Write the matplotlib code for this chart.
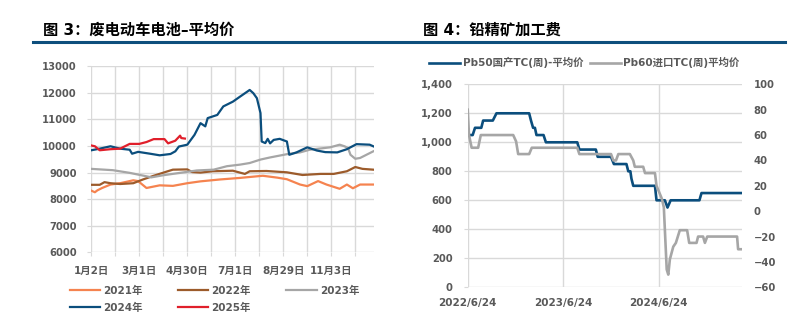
import datetime as dt

import matplotlib
matplotlib.use("Agg")
import matplotlib.pyplot as plt
import matplotlib.dates as mdates
from matplotlib.lines import Line2D

plt.rcParams["font.family"] = ["DejaVu Sans", "Noto Sans CJK SC"]

# ---- left chart: 废电动车电池-平均价 (x = trading day index in the year)
x_labels = ["1月2日", "", "3月1日", "", "4月30日", "", "7月1日", "", "8月29日", "", "11月3日", ""]

idx_2021 = [0, 3, 5, 9, 16, 24, 35, 39, 46, 57, 68, 80, 91, 107, 124, 138, 143, 155, 163, 174,
            180, 189, 196, 207, 213, 218, 224, 235]
val_2021 = [8320, 8260, 8330, 8420, 8550, 8600, 8710, 8680, 8420, 8520, 8500, 8600, 8670, 8740,
            8800, 8860, 8880, 8810, 8750, 8550, 8490, 8680, 8550, 8390, 8550, 8410, 8550, 8550]

idx_2022 = [0, 7, 11, 16, 24, 35, 43, 52, 63, 68, 80, 84, 91, 101, 118, 128, 132, 146, 163, 176,
            191, 202, 213, 220, 226, 235]
val_2022 = [8540, 8540, 8640, 8600, 8570, 8600, 8740, 8880, 9040, 9110, 9120, 9020, 9000, 9050,
            9070, 8950, 9050, 9060, 9010, 8910, 8950, 8950, 9050, 9210, 9140, 9110]

idx_2023 = [0, 18, 32, 46, 50, 60, 74, 88, 102, 113, 124, 132, 141, 149, 165, 174, 182, 199, 207,
            211, 214, 216, 220, 224, 235]
val_2023 = [9140, 9090, 8990, 8860, 8820, 8900, 8990, 9080, 9110, 9240, 9300, 9360, 9490, 9570,
            9710, 9760, 9860, 9950, 10050, 9990, 9920, 9670, 9520, 9550, 9800]

idx_2024 = [0, 7, 16, 24, 32, 34, 39, 49, 57, 66, 70, 73, 80, 86, 91, 95, 97, 105, 110, 118, 124,
            132, 135, 138, 141, 142, 145, 147, 149, 152, 157, 163, 165, 171, 180, 188, 195, 205,
            213, 221, 232, 235]
val_2024 = [9840, 9900, 9990, 9900, 9860, 9710, 9780, 9710, 9650, 9700, 9800, 9980, 10050, 10420,
            10860, 10740, 11050, 11170, 11490, 11670, 11860, 12110, 11990, 11800, 11240, 10170,
            10110, 10270, 10100, 10230, 10270, 10170, 9670, 9760, 9950, 9830, 9770, 9760, 9880,
            10070, 10050, 9990]

idx_2025 = [0, 3, 7, 16, 24, 32, 40, 46, 52, 61, 64, 70, 74, 75, 78]
val_2025 = [10020, 9990, 9840, 9880, 9900, 10080, 10080, 10150, 10260, 10260, 10100, 10200,
            10390, 10300, 10280]

# ---- right chart: 铅精矿加工费
pb50_dates = ["2022-06-24", "2022-07-13", "2022-07-22", "2022-08-15", "2022-08-22", "2022-09-28",
              "2022-10-12", "2023-02-14", "2023-02-21", "2023-03-01", "2023-03-08", "2023-03-14",
              "2023-04-10", "2023-04-19", "2023-08-17", "2023-08-25", "2023-10-27", "2023-11-03",
              "2023-12-24", "2024-01-04", "2024-02-21", "2024-02-28", "2024-03-07", "2024-03-11",
              "2024-03-18", "2024-06-09", "2024-06-15", "2024-07-17", "2024-07-27", "2024-08-08",
              "2024-11-26", "2024-12-04", "2025-05-07"]
pb50_vals = [1050, 1050, 1100, 1100, 1150, 1150, 1200, 1200, 1150, 1100, 1100, 1050, 1050, 1000,
             1000, 950, 950, 900, 900, 850, 850, 800, 800, 750, 700, 700, 600, 600, 550, 600,
             600, 650, 650]

pb60_dates = ["2022-06-24", "2022-06-29", "2022-07-09", "2022-08-03", "2022-08-13", "2022-12-15",
              "2022-12-26", "2023-01-03", "2023-02-14", "2023-02-24", "2023-08-17", "2023-08-25",
              "2023-12-24", "2024-01-02", "2024-01-12", "2024-01-21", "2024-03-05", "2024-03-18",
              "2024-03-24", "2024-04-25", "2024-05-02", "2024-06-09", "2024-06-15", "2024-07-05",
              "2024-07-13", "2024-07-17", "2024-07-24", "2024-07-30", "2024-08-05", "2024-08-18",
              "2024-08-28", "2024-09-12", "2024-10-10", "2024-10-18", "2024-11-15", "2024-11-21",
              "2024-12-10", "2024-12-17", "2024-12-26", "2025-04-19", "2025-04-23", "2025-05-07"]
pb60_vals = [80, 60, 50, 50, 60, 60, 55, 45, 45, 50, 50, 45, 45, 40, 40, 45, 45, 40, 35, 35, 30,
             30, 20, 10, 3, -15, -46, -50, -38, -28, -25, -15, -15, -25, -25, -20, -20, -25, -20,
             -20, -30, -30]

right_ticks = ["2022-06-24", "2023-06-24", "2024-06-24"]

TXT = "#595959"
GRID = "#d9d9d9"
BLUE = "#0b4e7d"


def to_date(s):
    return dt.datetime.strptime(s, "%Y-%m-%d")


def bold_labels(ax):
    for lab in ax.get_xticklabels() + ax.get_yticklabels():
        lab.set_fontweight("bold")


fig = plt.figure(figsize=(8.08, 3.27), dpi=100)

# titles and the blue rule under them
fig.text(43 / 808, 1 - 30 / 327, "图 3：废电动车电池–平均价", fontsize=11, fontweight="bold", va="center")
fig.text(423 / 808, 1 - 30 / 327, "图 4：铅精矿加工费", fontsize=11, fontweight="bold", va="center")
fig.add_artist(Line2D([33 / 808, 785 / 808], [1 - 42.3 / 327] * 2, color="#0e4f7d", lw=2.2))

# left chart
ax = fig.add_axes([91.3 / 808, 1 - 252.3 / 327, 282.7 / 808, 186 / 327])
ax.plot(idx_2021, val_2021, color="#f5834f", lw=1.6, label="2021年")
ax.plot(idx_2022, val_2022, color="#9c5b2b", lw=1.6, label="2022年")
ax.plot(idx_2023, val_2023, color="#a6a6a6", lw=1.6, label="2023年")
ax.plot(idx_2024, val_2024, color=BLUE, lw=1.6, label="2024年")
ax.plot(idx_2025, val_2025, color="#e01f2b", lw=1.6, label="2025年")
ax.set_xlim(0, 235.6)
ax.set_ylim(6000, 13000)
ax.set_yticks(range(6000, 13001, 1000))
ax.set_xticks(range(0, 221, 20))
ax.set_xticklabels(x_labels)
ax.grid(True, color=GRID, lw=1)
ax.set_axisbelow(True)
for s in ax.spines.values():
    s.set_visible(False)
ax.tick_params(axis="y", length=3, color=GRID, pad=7.5, labelsize=7.2, labelcolor=TXT)
ax.tick_params(axis="x", length=3, color=GRID, pad=7, labelsize=7.5, labelcolor=TXT)
bold_labels(ax)

h, l = ax.get_legend_handles_labels()
order = [0, 3, 1, 4, 2]
fig.legend([h[i] for i in order], [l[i] for i in order], ncol=3, loc="center left",
           bbox_to_anchor=(70 / 808, 1 - 299.2 / 327), frameon=False, borderpad=0,
           borderaxespad=0, handlelength=2.9, handletextpad=0.3, columnspacing=3.4,
           labelspacing=0.6, prop={"size": 7.5, "weight": "bold"}, labelcolor=TXT)

# right chart
ax2 = fig.add_axes([467.7 / 808, 1 - 287.3 / 327, 274.6 / 808, 203 / 327])
ax3 = ax2.twinx()
ax2.plot([to_date(d) for d in pb50_dates], pb50_vals, color=BLUE, lw=1.9,
         label="Pb50国产TC(周)-平均价")
ax3.plot([to_date(d) for d in pb60_dates], pb60_vals, color="#a6a6a6", lw=1.9,
         label="Pb60进口TC(周)平均价")
ax2.set_xlim(to_date("2022-06-24"), to_date("2025-05-09"))
ax2.set_ylim(0, 1400)
ax2.set_yticks(range(0, 1401, 200))
ax2.set_yticklabels([f"{v:,}" for v in range(0, 1401, 200)])
ax3.set_ylim(-60, 100)
ax3.set_yticks(range(-60, 101, 20))
tick_dates = [to_date(d) for d in right_ticks]
ax2.set_xticks(tick_dates)
ax2.set_xticklabels([f"{d.year}/{d.month}/{d.day}" for d in tick_dates])
ax2.grid(True, color=GRID, lw=1)
ax2.set_axisbelow(True)
for a in (ax2, ax3):
    for s in a.spines.values():
        s.set_visible(False)
ax2.tick_params(axis="y", length=3, color=GRID, pad=8, labelsize=7.2, labelcolor=TXT)
ax2.tick_params(axis="x", length=0, pad=8, labelsize=7.5, labelcolor=TXT)
ax3.tick_params(axis="y", length=0, pad=8, labelsize=7.2, labelcolor=TXT)
bold_labels(ax2)
bold_labels(ax3)

hh = ax2.get_legend_handles_labels()[0] + ax3.get_legend_handles_labels()[0]
ll = ax2.get_legend_handles_labels()[1] + ax3.get_legend_handles_labels()[1]
fig.legend(hh, ll, ncol=2, loc="center left", bbox_to_anchor=(429 / 808, 1 - 62.7 / 327),
           frameon=False, borderpad=0, borderaxespad=0, handlelength=3.0, handletextpad=0.25,
           columnspacing=0.6, prop={"size": 7.5, "weight": "bold"}, labelcolor=TXT)

fig.savefig("out.png", dpi=100)
